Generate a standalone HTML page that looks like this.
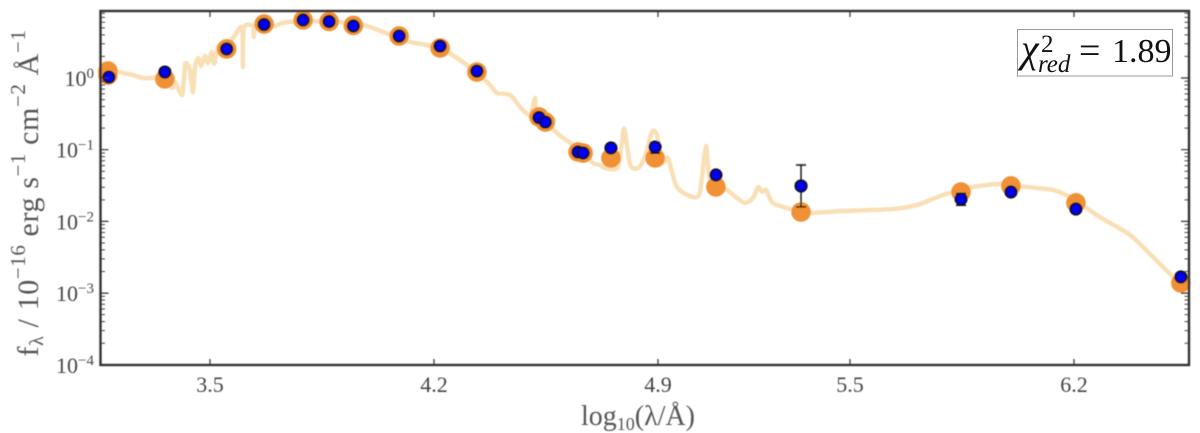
<!DOCTYPE html>
<html lang="en">
<head>
<meta charset="utf-8">
<title>SED fit</title>
<style>
html,body{margin:0;padding:0;background:#fff;width:1200px;height:433px;overflow:hidden}
svg{display:block}
text{font-family:"Liberation Serif",serif}
</style>
</head>
<body>
<svg id="chart" xmlns="http://www.w3.org/2000/svg" width="1200" height="433" viewBox="0 0 1200 433">
  <defs>
    <filter id="soft" x="-2%" y="-2%" width="104%" height="104%"><feGaussianBlur stdDeviation="0.6"/></filter>
  </defs>
  <rect width="1200" height="433" fill="#fff"/>
  <g filter="url(#soft)">
    <g id="series"></g>
    <g id="ticks"></g>
    <rect x="100.5" y="11" width="1088.5" height="354" fill="none" stroke="#333" stroke-width="2.4"/>
    <g id="tick-labels" fill="#444"></g>
    <text x="638" y="425" text-anchor="middle" font-size="28" fill="#555">log<tspan font-size="18" dy="5">10</tspan><tspan dy="-5">(λ/Å)</tspan></text>
    <text transform="translate(38,193) rotate(-90)" text-anchor="middle" font-size="30" letter-spacing="0.6" fill="#555">f<tspan font-size="20" dy="5">λ</tspan><tspan dy="-5"> / 10</tspan><tspan font-size="21" dy="-13">−16</tspan><tspan dy="13"> erg s</tspan><tspan font-size="21" dy="-13">−1</tspan><tspan dy="13"> cm</tspan><tspan font-size="21" dy="-13">−2</tspan><tspan dy="13"> Å</tspan><tspan font-size="21" dy="-13">−1</tspan></text>
  </g>
  <g>
    <rect x="1017.5" y="29.5" width="155" height="46.5" fill="#fff" stroke="#999" stroke-width="1"/>
    <text x="1021" y="62" font-size="40" font-style="italic" fill="#111">χ</text>
    <text x="1041" y="52" font-size="25" fill="#111">2</text>
    <text x="1038" y="72" font-size="25" font-style="italic" fill="#111">red</text>
    <text x="1079" y="63" font-size="38" fill="#111">=</text>
    <text x="1112" y="62" font-size="34" fill="#111">1.89</text>
  </g>
</svg>
<script>
// Model spectrum: log10 wavelength (Å) and log10 flux
const spectrumLogWave = [3.159,3.209,3.259,3.288,3.313,3.353,3.381,3.391,3.413,3.422,3.431,3.438,3.447,3.453,3.463,3.472,3.484,3.494,3.506,3.513,3.525,3.538,3.553,3.578,3.600,3.603,3.606,3.634,3.637,3.641,3.666,3.703,3.725,3.791,3.947,4.000,4.088,4.125,4.219,4.281,4.334,4.375,4.397,4.438,4.469,4.500,4.516,4.522,4.584,4.647,4.697,4.719,4.734,4.775,4.791,4.797,4.813,4.838,4.859,4.881,4.897,4.913,4.931,4.959,5.009,5.031,5.050,5.063,5.116,5.147,5.172,5.197,5.213,5.225,5.238,5.259,5.322,5.347,5.375,5.478,5.634,5.709,5.791,5.884,5.969,6.053,6.134,6.188,6.281,6.375,6.447,6.541];
const spectrumLogFlux = [0.084,0.084,0.042,0.000,0.000,0.000,-0.139,-0.056,-0.237,0.181,0.181,0.084,-0.195,0.153,0.279,0.167,0.307,0.209,0.363,0.195,0.432,0.307,0.418,0.600,0.697,0.153,0.697,0.725,0.572,0.725,0.750,0.725,0.767,0.795,0.767,0.711,0.558,0.502,0.418,0.251,0.070,-0.098,-0.209,-0.237,-0.404,-0.516,-0.279,-0.488,-0.767,-0.976,-1.186,-1.213,-1.255,-1.241,-0.753,-0.753,-1.213,-1.255,-1.102,-0.753,-0.795,-1.186,-1.116,-1.520,-1.660,-1.590,-0.948,-1.423,-1.562,-1.674,-1.743,-1.674,-1.520,-1.590,-1.562,-1.743,-1.841,-1.869,-1.883,-1.855,-1.827,-1.771,-1.632,-1.520,-1.478,-1.520,-1.562,-1.660,-1.939,-2.190,-2.497,-2.915];

// Synthetic photometry (orange)
const modelWave = [3.181,3.181,3.359,3.552,3.669,3.791,3.872,3.948,4.091,4.219,4.334,4.528,4.548,4.650,4.666,4.753,4.891,5.081,5.347,5.847,6.003,6.206,6.534];
const modelFlux = [1.25,1.10,0.97,2.54,5.66,6.44,6.14,5.40,3.85,2.62,1.21,0.286,0.243,0.0929,0.0899,0.0766,0.0766,0.0302,0.01352,0.0257,0.0312,0.0181,0.001384];

// Observed photometry (blue) with error limits
const obsWave = [3.184,3.359,3.552,3.669,3.791,3.872,3.948,4.091,4.219,4.334,4.528,4.548,4.650,4.666,4.753,4.891,5.081,5.347,5.847,6.003,6.206,6.534];
const obsFlux = [1.03,1.21,2.54,5.57,6.44,6.14,5.31,3.85,2.79,1.25,0.281,0.243,0.0929,0.0899,0.1056,0.109,0.0444,0.0312,0.0205,0.0257,0.0149,0.00168];
const obsLower = [null,null,null,null,null,null,null,null,null,null,null,null,null,null,null,0.089,null,0.0159,0.0168,null,null,null];
const obsUpper = [null,null,null,null,null,null,null,null,null,null,null,null,null,null,null,0.127,null,0.0612,0.0245,null,null,null];

// Axis ticks
const xTickValues = [3.5,4.2,4.9,5.5,6.2];
const xTickLabels = ["3.5","4.2","4.9","5.5","6.2"];
const yTickExponents = [0,-1,-2,-3,-4];
const yTickLabels = ["0","−1","−2","−3","−4"];
const yMinorDecades = [0,-1,-2,-3,-4];
const yMinorFactors = [2,3,4,5,6,7,8,9];

const NS = "http://www.w3.org/2000/svg";
const plotLeft = 100.5, plotRight = 1189, plotTop = 11, plotBottom = 365;
function xScale(v){ return 210 + (v - 3.5) * 320; }
function yLog(v){ return 78 - v * 71.7; }
function yScale(v){ return yLog(Math.log10(v)); }
function make(tag, attrs){
  const el = document.createElementNS(NS, tag);
  for (const k in attrs) el.setAttribute(k, attrs[k]);
  return el;
}
function smoothPath(xs, ys){
  const k = 0.13;
  let d = "M" + xs[0].toFixed(1) + " " + ys[0].toFixed(1);
  for (let i = 0; i < xs.length - 1; i++) {
    const a = Math.max(i - 1, 0), b = Math.min(i + 2, xs.length - 1);
    const c1x = xs[i] + (xs[i + 1] - xs[a]) * k, c1y = ys[i] + (ys[i + 1] - ys[a]) * k;
    const c2x = xs[i + 1] - (xs[b] - xs[i]) * k, c2y = ys[i + 1] - (ys[b] - ys[i]) * k;
    d += "C" + c1x.toFixed(1) + " " + c1y.toFixed(1) + " " + c2x.toFixed(1) + " " + c2y.toFixed(1) + " " + xs[i + 1].toFixed(1) + " " + ys[i + 1].toFixed(1);
  }
  return d;
}

const series = document.getElementById("series");
const ticks = document.getElementById("ticks");
const tickLabels = document.getElementById("tick-labels");

// Spectrum line
const spectrum = make("path", {d: smoothPath(spectrumLogWave.map(xScale), spectrumLogFlux.map(yLog)), fill: "none", stroke: "#f9dfb5", "stroke-width": 4.4, "stroke-linejoin": "round"});


series.appendChild(spectrum);

// Orange model points
modelWave.forEach((w, i) => {
  const c = make("circle", {cx: xScale(w), cy: yScale(modelFlux[i]), r: 9.8, fill: "#f09136"});
  
  
  series.appendChild(c);
});

// Error bars
obsWave.forEach((w, i) => {
  if (obsLower[i] === null) return;
  const x = xScale(w), y1 = yScale(obsLower[i]), y2 = yScale(obsUpper[i]);
  const d = `M${x} ${y1}V${y2}M${x-5} ${y1}H${x+5}M${x-5} ${y2}H${x+5}`;
  const e = make("path", {d: d, fill: "none", stroke: "#111", "stroke-width": 1.4});
  
  
  series.appendChild(e);
});

// Blue observed points
obsWave.forEach((w, i) => {
  const c = make("circle", {cx: xScale(w), cy: yScale(obsFlux[i]), r: 5.6, fill: "#0000f5", stroke: "#0c0c28", "stroke-width": 2});
  
  
  series.appendChild(c);
});

// X ticks and labels
xTickValues.forEach((v, i) => {
  const x = xScale(v);
  const t = make("path", {d: `M${x} ${plotBottom}v-6M${x} ${plotTop}v6`, stroke: "#333", "stroke-width": 1.2, fill: "none"});
  
  
  ticks.appendChild(t);
  const l = make("text", {x: x, y: 392, "text-anchor": "middle", "font-size": 22});
  
  
  l.textContent = xTickLabels[i];
  tickLabels.appendChild(l);
});

// Y major ticks and labels
yTickExponents.forEach((e, i) => {
  const y = yLog(e);
  const t = make("path", {d: `M${plotLeft} ${y}h8M${plotRight} ${y}h-8`, stroke: "#333", "stroke-width": 1.2, fill: "none"});
  
  
  ticks.appendChild(t);
  const l = make("text", {x: 94, y: y + 8, "text-anchor": "end", "font-size": 22});
  
  
  const base = make("tspan", {});
  base.textContent = "10";
  const sup = make("tspan", {"font-size": 15, dy: -8});
  sup.textContent = yTickLabels[i];
  l.appendChild(base);
  l.appendChild(sup);
  tickLabels.appendChild(l);
});

// Y minor ticks
yMinorDecades.forEach(d => {
  yMinorFactors.forEach(f => {
    const y = yScale(f * Math.pow(10, d));
    if (y < plotTop) return;
    const t = make("path", {d: `M${plotLeft} ${y}h4.5M${plotRight} ${y}h-4.5`, stroke: "#444", "stroke-width": 1, fill: "none"});
    
    
    ticks.appendChild(t);
  });
});
</script>
</body>
</html>
